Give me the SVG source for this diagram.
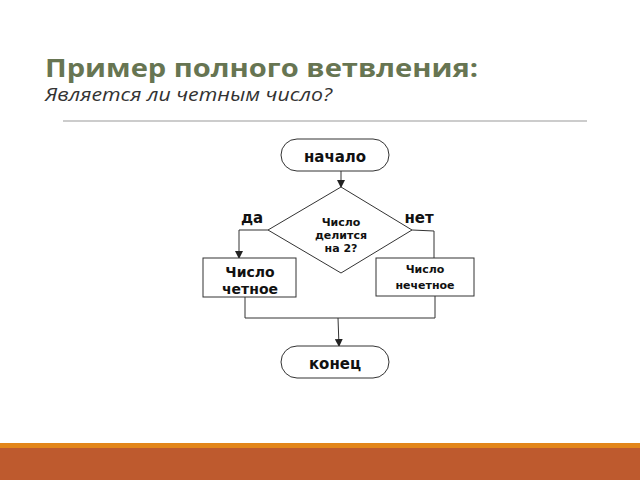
<svg xmlns="http://www.w3.org/2000/svg" width="640" height="480" viewBox="0 0 640 480">
<defs>
<marker id="ar" markerWidth="8" markerHeight="8" refX="7" refY="4" orient="auto" markerUnits="userSpaceOnUse"><path d="M0,0 L8,4 L0,8 z" fill="#222"/></marker>
<style>
.s{fill:#fff;stroke:#333;stroke-width:1}
.c{fill:none;stroke:#333;stroke-width:1}
.t{font-family:"DejaVu Sans",sans-serif;font-weight:bold;fill:#111;text-anchor:middle}
</style>
</defs>
<rect width="640" height="480" fill="#fff"/>
<text x="45" y="77" font-family="'Open Sans','DejaVu Sans',sans-serif" font-weight="bold" font-size="25" fill="#677552" textLength="433" lengthAdjust="spacingAndGlyphs">Пример полного ветвления:</text>
<text x="45" y="101" font-family="'Open Sans','DejaVu Sans',sans-serif" font-style="italic" font-size="18" fill="#333" textLength="287" lengthAdjust="spacingAndGlyphs">Является ли четным число?</text>
<line x1="63" y1="121" x2="587" y2="121" stroke="#bbb" stroke-width="1.5"/>
<rect x="0" y="443" width="640" height="5" fill="#E3861A"/>
<rect x="0" y="448" width="640" height="32" fill="#BE5A2E"/>
<g id="connectors">
<path class="c" d="M341,171 L341,187" marker-end="url(#ar)"/>
<path class="c" d="M268,230 L239,230 L239,258" marker-end="url(#ar)"/>
<path class="c" d="M412,230 L434,231 L434,258"/>
<path class="c" d="M245,297 L245,318 L435,318 L435,296"/>
<path class="c" d="M338,318 L339,346" marker-end="url(#ar)"/>
</g>
<g id="start"><rect class="s" x="281" y="139" width="108" height="32" rx="16"/><text class="t" x="335" y="162" font-size="15">начало</text></g>
<g id="decision"><polygon class="s" points="341,187 412,230 341,273 268,230"/>
<text class="t" x="341" y="226" font-size="11">Число</text><text class="t" x="341" y="239" font-size="11">делится</text><text class="t" x="341" y="252" font-size="11">на 2?</text></g>
<g id="even"><rect class="s" x="203" y="258" width="93" height="39"/><text class="t" x="250" y="277" font-size="14">Число</text><text class="t" x="250" y="294" font-size="14">четное</text></g>
<g id="odd"><rect class="s" x="376" y="258" width="98" height="38"/><text class="t" x="425" y="273" font-size="11">Число</text><text class="t" x="425" y="289" font-size="11">нечетное</text></g>
<g id="end"><rect class="s" x="281" y="346" width="108" height="32" rx="16"/><text class="t" x="335" y="369" font-size="15">конец</text></g>
<text class="t" x="252" y="223" font-size="15">да</text>
<text class="t" x="419" y="223" font-size="15">нет</text>
</svg>
